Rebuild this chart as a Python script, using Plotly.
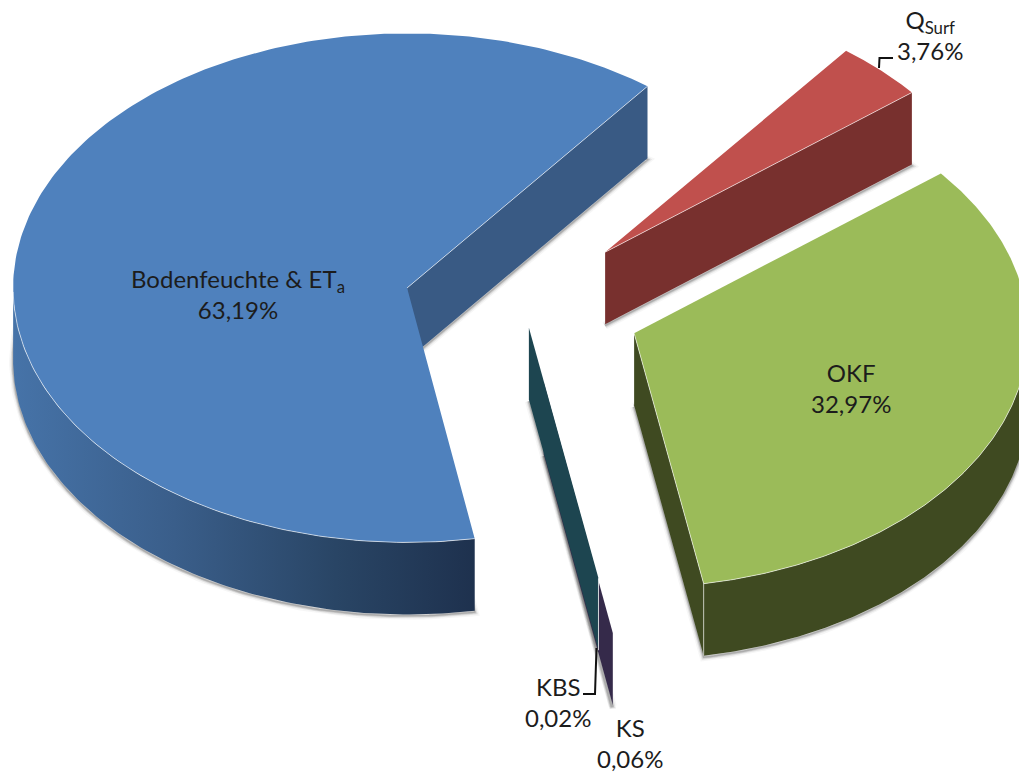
import numpy as np
import plotly.graph_objects as go

# Share of each runoff component in percent, clockwise from QSurf
slice_names = ["Q<sub>Surf</sub>", "OKF", "KBS", "KS", "Bodenfeuchte &amp; ET<sub>a</sub>"]
shares_pct = [3.76, 32.97, 0.02, 0.06, 63.19]

# Projection of the tilted pie, in pixels of the 1019x772 canvas
CX, CY = 523.0, 306.4
RX, RY = 394.0, 254.5
DEPTH = 72.0
START_DEG = 52.4

explode = [0.298, 0.301, 0.085, 0.303, 0.303]
top_colors = ["#C0504D", "#9BBB59", "#1D4550", "#352A4A", "#4F81BD"]
wall_colors = ["#78302E", "#3F4A21", "#1D4550", "#352A4A", "#395A84"]
RIM = "rgba(255,255,255,0.6)"
FONT = "Lato"
TEXT = "#1c1c1c"

fig = go.Figure()


def poly(x, y, **kw):
    fig.add_trace(go.Scatter(x=list(x), y=list(y), mode="lines", hoverinfo="skip",
                             showlegend=False, **kw))


def fill(x, y, color, **kw):
    poly(x, y, fill="toself", fillcolor=color, line=dict(width=0, color=color), **kw)


# Wedge angles from the shares
spans = [v / 100.0 * 360.0 for v in shares_pct]
ends = START_DEG - np.cumsum(spans)
starts = ends + np.array(spans)
wedges = []
for i in range(len(shares_pct)):
    mid = np.radians((starts[i] + ends[i]) / 2)
    ax = CX + explode[i] * RX * np.cos(mid)
    ay = CY - explode[i] * RY * np.sin(mid)
    t = np.radians(np.linspace(starts[i], ends[i], 240))
    wedges.append(dict(ax=ax, ay=ay, t=t,
                       ex=ax + RX * np.cos(t), ey=ay - RY * np.sin(t)))

# Soft drop shadow cast by the underside of every wedge
for w in wedges:
    sx = np.r_[w["ax"], w["ex"], w["ax"]]
    sy = np.r_[w["ay"], w["ey"], w["ay"]] + DEPTH + 1.5
    for width, alpha in [(8, 0.05), (5, 0.10), (3, 0.16), (1.5, 0.22)]:
        poly(sx, sy, line=dict(width=width, color=f"rgba(70,70,70,{alpha})"))


def draw_radial_wall(w, idx, color):
    x0, y0, x1, y1 = w["ax"], w["ay"], w["ex"][idx], w["ey"][idx]
    fill([x0, x1, x1, x0, x0], [y0, y1, y1 + DEPTH, y0 + DEPTH, y0], color)


def draw_outer_wall(w, color, gradient=None):
    mask = np.sin(w["t"]) <= 0.0
    ex, ey = w["ex"][mask], w["ey"][mask]
    x = np.r_[ex, ex[::-1], ex[0]]
    y = np.r_[ey, ey[::-1] + DEPTH, ey[0]]
    if gradient:
        poly(x, y, fill="toself", line=dict(width=0, color=color),
             fillgradient=dict(type="horizontal", colorscale=gradient))
    else:
        fill(x, y, color)


i_q, i_okf, i_kbs, i_ks, i_bf = range(5)

# Body of the big wedge: flat cut face plus a shaded outer wall
blue = wedges[i_bf]
draw_radial_wall(blue, -1, wall_colors[i_bf])
draw_outer_wall(blue, wall_colors[i_bf],
                gradient=[[0, "#4673A8"], [0.35, "#3A5E8A"], [0.7, "#294565"], [1, "#1E314E"]])
fill(np.r_[blue["ax"], blue["ex"], blue["ax"]], np.r_[blue["ay"], blue["ey"], blue["ay"]],
     top_colors[i_bf])
poly([blue["ax"], blue["ex"][-1]], [blue["ay"], blue["ey"][-1]], line=dict(width=1, color=RIM))
arc = np.sin(blue["t"]) <= 0.0
poly(blue["ex"][arc], blue["ey"][arc], line=dict(width=1, color=RIM))

# Two slivers: their cut faces are all that shows
for i in (i_ks, i_kbs):
    draw_radial_wall(wedges[i], 0, wall_colors[i])
w = wedges[i_kbs]
poly([w["ex"][0], w["ex"][0]], [w["ey"][0], w["ey"][0] + DEPTH],
     line=dict(width=1, color="rgba(255,255,255,0.8)"))

# QSurf wedge
w = wedges[i_q]
draw_radial_wall(w, -1, wall_colors[i_q])
fill(np.r_[w["ax"], w["ex"], w["ax"]], np.r_[w["ay"], w["ey"], w["ay"]], top_colors[i_q])
poly([w["ax"], w["ex"][-1]], [w["ay"], w["ey"][-1]], line=dict(width=1, color=RIM))

# OKF wedge
w = wedges[i_okf]
draw_radial_wall(w, -1, wall_colors[i_okf])
draw_outer_wall(w, wall_colors[i_okf])
fill(np.r_[w["ax"], w["ex"], w["ax"]], np.r_[w["ay"], w["ey"], w["ay"]], top_colors[i_okf])
poly([w["ax"], w["ex"][-1]], [w["ay"], w["ey"][-1]], line=dict(width=1, color=RIM))
poly([w["ex"][-1], w["ex"][-1]], [w["ey"][-1], w["ey"][-1] + DEPTH], line=dict(width=1, color=RIM))
arc = np.sin(w["t"]) <= 0.0
poly(w["ex"][arc], w["ey"][arc], line=dict(width=1, color=RIM))

# Leader lines of the two outside labels
poly([879, 879.5, 893], [68, 58, 58], line=dict(width=2, color="#111111"))
poly([596.5, 595, 583], [648, 694, 694], line=dict(width=2, color="#111111"))

label_pos = [(930, 35), (851, 388), (558, 702), (630, 743), (238, 294)]
annotations = []
for name, value, (lx, ly) in zip(slice_names, shares_pct, label_pos):
    pct = f"{value:.2f}".replace(".", ",") + "%"
    annotations.append(dict(x=lx, y=ly, xref="x", yref="y", text=f"{name}<br>{pct}",
                            showarrow=False, align="center",
                            font=dict(family=FONT, size=24, color=TEXT)))

fig.update_layout(
    width=1019, height=772, margin=dict(l=0, r=0, t=0, b=0),
    paper_bgcolor="white", plot_bgcolor="white", showlegend=False,
    xaxis=dict(range=[0, 1019], visible=False, fixedrange=True),
    yaxis=dict(range=[772, 0], visible=False, fixedrange=True),
    annotations=annotations,
)
fig.write_html("out.html", config=dict(displayModeBar=False))
